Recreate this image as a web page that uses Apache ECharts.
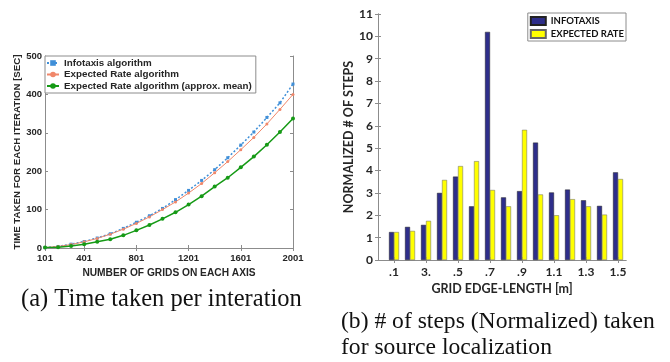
<!DOCTYPE html>
<html>
<head>
<meta charset="utf-8">
<script src="https://cdn.jsdelivr.net/npm/echarts@6/dist/echarts.min.js"></script>
<style>
  html, body { margin: 0; padding: 0; background: #fff; }
  #chart { width: 670px; height: 362px; }
</style>
</head>
<body>
<div id="chart"></div>
<script>
// left panel: time per iteration vs. grid size
const gridSizes = [101, 201, 301, 401, 501, 601, 701, 801, 901, 1001, 1101, 1201, 1301, 1401, 1501, 1601, 1701, 1801, 1901, 2001];
const infotaxisTime = [1, 4, 10, 17, 26, 37, 51, 67, 84, 103, 126, 150, 176, 204, 235, 268, 302, 340, 378, 427];
const expectedTime = [1, 4, 9, 16, 25, 36, 49, 64, 81, 100, 120, 143, 168, 196, 225, 256, 288, 323, 361, 400];
const approxMeanTime = [1, 2, 5, 10, 16, 23, 33, 46, 60, 76, 93, 113, 135, 160, 183, 210, 238, 269, 302, 337];
const gridTicks = [101, 401, 801, 1201, 1601, 2001];

// right panel: normalized # of steps per grid edge length
const edgeLengths = [".1", ".2", "3.", ".4", ".5", ".6", ".7", ".8", ".9", "1", "1.1", "1.2", "1.3", "1.4", "1.5"];
const edgeTickIdx = [1, 3, 5, 7, 9, 11, 13, 15];
const infotaxisSteps = [1.25, 1.48, 1.57, 3.0, 3.73, 2.4, 10.2, 2.8, 3.08, 5.25, 3.02, 3.15, 2.67, 2.42, 3.92];
const expectedSteps = [1.25, 1.3, 1.75, 3.58, 4.2, 4.42, 3.13, 2.4, 5.82, 2.93, 2.0, 2.72, 2.4, 2.03, 3.62];

const pair = (xs, ys) => xs.map((x, i) => [x, ys[i]]);

const sans = "Liberation Sans";
const rsans = "Lato";
const ink = "#262626";
const frame = "#8c8c8c";

const tickIn = { show: true, inside: true, length: 3, lineStyle: { color: frame } };
const lineAx = { show: true, lineStyle: { color: frame, width: 1 } };

const chart = echarts.init(document.getElementById("chart"));
chart.setOption({
  animation: false,
  backgroundColor: "#fff",
  grid: [
    { left: 45, top: 56, width: 248, height: 192 },
    { left: 378, top: 14, width: 248, height: 246 }
  ],
  xAxis: [
    {
      gridIndex: 0, type: "value", min: 101, max: 2001,
      axisLine: lineAx,
      axisTick: { ...tickIn, customValues: gridTicks },
      axisLabel: { customValues: gridTicks, formatter: v => String(v), color: ink, fontFamily: sans, fontWeight: "bold", fontSize: 9.5, margin: 5 },
      splitLine: { show: false },
      name: "NUMBER OF GRIDS ON EACH AXIS", nameLocation: "middle", nameGap: 17,
      nameTextStyle: { color: ink, fontFamily: sans, fontWeight: "bold", fontSize: 10.2 }
    },
    {
      gridIndex: 0, type: "value", min: 101, max: 2001, position: "top",
      axisLine: lineAx,
      axisTick: { ...tickIn, customValues: gridTicks },
      axisLabel: { show: false }, splitLine: { show: false }
    },
    {
      gridIndex: 1, type: "value", min: 0, max: 15.5,
      axisLine: lineAx,
      axisTick: { ...tickIn, customValues: edgeTickIdx },
      axisLabel: {
        customValues: edgeTickIdx, formatter: v => edgeLengths[v - 1],
        color: ink, fontFamily: rsans, fontWeight: "bold", fontSize: 12, margin: 6
      },
      splitLine: { show: false },
      name: "GRID EDGE-LENGTH [m]", nameLocation: "middle", nameGap: 20,
      nameTextStyle: { color: ink, fontFamily: rsans, fontWeight: "bold", fontSize: 12.5 }
    },
    {
      gridIndex: 1, type: "value", min: 0, max: 15.5, position: "top",
      axisLine: lineAx,
      axisTick: { ...tickIn, customValues: edgeTickIdx },
      axisLabel: { show: false }, splitLine: { show: false }
    }
  ],
  yAxis: [
    {
      gridIndex: 0, type: "value", min: 0, max: 500, interval: 100,
      axisLine: lineAx, axisTick: tickIn,
      axisLabel: { color: ink, fontFamily: sans, fontWeight: "bold", fontSize: 9.5, margin: 3 },
      splitLine: { show: false },
      name: "TIME TAKEN FOR EACH ITERATION [SEC]", nameLocation: "middle", nameGap: 20,
      nameTextStyle: { color: ink, fontFamily: sans, fontWeight: "bold", fontSize: 9.7 }
    },
    {
      gridIndex: 0, type: "value", min: 0, max: 500, interval: 100, position: "right",
      axisLine: lineAx, axisTick: tickIn, axisLabel: { show: false }, splitLine: { show: false }
    },
    {
      gridIndex: 1, type: "value", min: 0, max: 11, interval: 1,
      axisLine: lineAx, axisTick: tickIn,
      axisLabel: { color: ink, fontFamily: rsans, fontWeight: "bold", fontSize: 12, margin: 5 },
      splitLine: { show: false },
      name: "NORMALIZED # OF STEPS", nameLocation: "middle", nameGap: 19,
      nameTextStyle: { color: ink, fontFamily: rsans, fontWeight: "bold", fontSize: 12.5 }
    },
    {
      gridIndex: 1, type: "value", min: 0, max: 11, interval: 1, position: "right",
      axisLine: lineAx, axisTick: tickIn, axisLabel: { show: false }, splitLine: { show: false }
    }
  ],
  legend: [
    {
      data: ["Infotaxis algorithm", "Expected Rate algorithm", "Expected Rate algorithm (approx. mean)"],
      orient: "vertical", left: 45, top: 56,
      backgroundColor: "#fff", borderColor: frame, borderWidth: 1,
      padding: [2, 4, 2, 1], itemGap: 1.5, itemWidth: 12, itemHeight: 7,
      textStyle: { color: ink, fontFamily: sans, fontWeight: "bold", fontSize: 9.8 }
    },
    {
      data: ["INFOTAXIS", "EXPECTED RATE"],
      orient: "vertical", right: 44, top: 13,
      backgroundColor: "#fff", borderColor: frame, borderWidth: 1,
      padding: [3, 2, 2, 2], itemGap: 3, itemWidth: 15, itemHeight: 8,
      icon: "rect",
      textStyle: { color: "#111", fontFamily: rsans, fontWeight: "bold", fontSize: 9.5 }
    }
  ],
  series: [
    {
      name: "Infotaxis algorithm", type: "line", xAxisIndex: 0, yAxisIndex: 0,
      data: pair(gridSizes, infotaxisTime),
      symbol: "rect", symbolSize: 3,
      lineStyle: { color: "#3f8fd8", width: 1.5, type: [2, 2] },
      itemStyle: { color: "#3f8fd8" }
    },
    {
      name: "Expected Rate algorithm", type: "line", xAxisIndex: 0, yAxisIndex: 0,
      data: pair(gridSizes, expectedTime),
      symbol: "circle", symbolSize: 3,
      lineStyle: { color: "#f0876a", width: 1 },
      itemStyle: { color: "#f0876a" }
    },
    {
      name: "Expected Rate algorithm (approx. mean)", type: "line", xAxisIndex: 0, yAxisIndex: 0,
      data: pair(gridSizes, approxMeanTime),
      symbol: "circle", symbolSize: 4,
      lineStyle: { color: "#169a16", width: 1.5 },
      itemStyle: { color: "#169a16" }
    },
    {
      name: "INFOTAXIS", type: "bar", xAxisIndex: 2, yAxisIndex: 2,
      data: infotaxisSteps.map((v, i) => [i + 1, v]),
      barWidth: 5, barGap: "0%",
      itemStyle: { color: "#2e2e8a", borderColor: "#222", borderWidth: 0.5 }
    },
    {
      name: "EXPECTED RATE", type: "bar", xAxisIndex: 2, yAxisIndex: 2,
      data: expectedSteps.map((v, i) => [i + 1, v]),
      barWidth: 5, barGap: "0%",
      itemStyle: { color: "#ffff00", borderColor: "#666", borderWidth: 0.5 }
    }
  ],
  graphic: [
    {
      type: "text", left: 21, top: 287,
      style: { text: "(a) Time taken per interation", fontFamily: "Liberation Serif", fontSize: 24.5, fill: "#111" }
    },
    {
      type: "text", left: 341, top: 309,
      style: { text: "(b) # of steps (Normalized) taken\nfor source localization", fontFamily: "Liberation Serif", fontSize: 23.6, lineHeight: 26, fill: "#111" }
    }
  ]
});
</script>
</body>
</html>
